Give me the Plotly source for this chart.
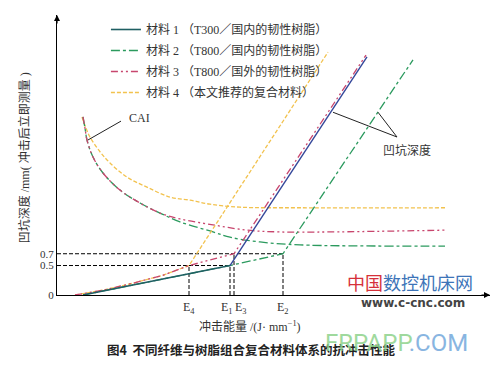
import plotly.graph_objects as go

# ---------------- data (energy in arbitrary units, depth in mm) ----------------
E4, E1, E3, E2 = 1.32, 1.73, 1.77, 2.26
energy_marks = [E4, E1, E3, E2]
energy_labels = ["E<sub>4</sub>", "E<sub>1</sub>", "E<sub>3</sub>", "E<sub>2</sub>"]
depth_ticks = [0, 0.5, 0.7]
depth_tick_labels = ["0", "0.5", "0.7"]

# dent depth vs impact energy
m1_low_x = [0.26, 0.93, 1.33, 1.73]
m1_low_y = [0.0, 0.23, 0.37, 0.5]
m1_high_x = [1.73, 3.10]
m1_high_y = [0.5, 4.04]

m2_x = [0.26, 0.93, 1.33, 1.73, 2.26, 3.56]
m2_y = [0.0, 0.23, 0.37, 0.5, 0.7, 3.99]

m3_x = [0.18, 0.47, 0.76, 1.05, 1.32, 1.56, 1.77, 3.09]
m3_y = [0.0, 0.085, 0.20, 0.33, 0.5, 0.60, 0.7, 4.07]

m4_x = [0.18, 0.47, 0.76, 1.05, 1.32, 2.71]
m4_y = [0.0, 0.085, 0.20, 0.33, 0.5, 4.12]

# CAI vs impact energy
cai4_x = [0.25, 0.29, 0.33, 0.43, 0.53, 0.70, 0.90, 1.13, 1.33, 1.53, 1.83, 2.43, 3.88]
cai4_y = [3.02, 2.83, 2.68, 2.43, 2.24, 2.00, 1.83, 1.66, 1.61, 1.54, 1.49, 1.48, 1.48]

cai3_x = [0.26, 0.28, 0.30, 0.36, 0.46, 0.63, 0.83, 1.03, 1.23, 1.56, 1.90, 2.23, 2.73, 3.88]
cai3_y = [3.02, 2.83, 2.63, 2.34, 2.07, 1.78, 1.56, 1.39, 1.29, 1.19, 1.10, 1.07, 1.07, 1.10]

cai2_x = [0.26, 0.28, 0.30, 0.36, 0.46, 0.63, 0.83, 1.03, 1.23, 1.56, 1.73, 2.03, 2.43, 3.88]
cai2_y = [3.02, 2.83, 2.63, 2.34, 2.07, 1.78, 1.56, 1.39, 1.24, 1.07, 0.98, 0.90, 0.85, 0.83]

legend_names = [
    "材料 1 （T300／国内的韧性树脂）",
    "材料 2 （T800／国内的韧性树脂）",
    "材料 3 （T800／国外的韧性树脂）",
    "材料 4 （本文推荐的复合材料）",
]

# ---------------- styles ----------------
C_TEAL = "#1f5f63"
C_NAVY = "#34479a"
C_GREEN = "#2b9a5e"
C_MAG = "#c8466e"
C_YEL = "#f2c24e"
D_DDOT = "7px,3px,2px,3px,2px,3px"
D_YEL = "4px,2px"
LW = 1.3
SERIF = "Liberation Serif, Noto Sans CJK SC"
CJK = "Noto Sans CJK SC"

fig = go.Figure()

# CAI curves
fig.add_trace(go.Scatter(x=cai4_x, y=cai4_y, mode="lines", line=dict(color=C_YEL, width=LW, dash=D_YEL, shape="spline"), showlegend=False))
fig.add_trace(go.Scatter(x=cai2_x, y=cai2_y, mode="lines", line=dict(color=C_GREEN, width=LW, dash="dashdot", shape="spline"), showlegend=False))
fig.add_trace(go.Scatter(x=cai3_x, y=cai3_y, mode="lines", line=dict(color=C_MAG, width=LW, dash=D_DDOT, shape="spline"), showlegend=False))

# dashed reference lines
fig.add_trace(go.Scatter(x=[0, E1, None, 0, E2], y=[0.5, 0.5, None, 0.7, 0.7], mode="lines",
                         line=dict(color="black", width=1, dash="4px,2px"), showlegend=False))
fig.add_trace(go.Scatter(x=[E4, E4, None, E1, E1, None, E3, E3, None, E2, E2],
                         y=[0, 0.5, None, 0, 0.5, None, 0, 0.7, None, 0, 0.7], mode="lines",
                         line=dict(color="black", width=1, dash="4px,2px"), showlegend=False))

# depth curves
fig.add_trace(go.Scatter(x=m4_x, y=m4_y, mode="lines", name=legend_names[3], legendrank=4, legendgroup="m4",
                         line=dict(color=C_YEL, width=LW, dash=D_YEL)))
fig.add_trace(go.Scatter(x=m2_x, y=m2_y, mode="lines", name=legend_names[1], legendrank=2, legendgroup="m2",
                         line=dict(color=C_GREEN, width=LW, dash="dashdot")))
fig.add_trace(go.Scatter(x=m3_x, y=m3_y, mode="lines", name=legend_names[2], legendrank=3, legendgroup="m3",
                         line=dict(color=C_MAG, width=LW, dash=D_DDOT)))
fig.add_trace(go.Scatter(x=m1_low_x, y=m1_low_y, mode="lines", name=legend_names[0], legendrank=1, legendgroup="m1",
                         line=dict(color=C_TEAL, width=1.6)))
fig.add_trace(go.Scatter(x=m1_high_x, y=m1_high_y, mode="lines", showlegend=False, legendgroup="m1",
                         line=dict(color=C_NAVY, width=1.4)))

# energy labels
shifts = [0, -3, 7, 0]
for xv, lab, sh in zip(energy_marks, energy_labels, shifts):
    fig.add_annotation(x=xv, y=0, yref="y", text=lab, showarrow=False, xshift=sh, yshift=-13,
                       font=dict(family=SERIF, size=12, color="#333"))

# leader lines and labels
fig.add_shape(type="line", x0=0.31, y0=2.63, x1=0.64, y1=2.95, line=dict(color="#222", width=1))
fig.add_annotation(x=0.82, y=3.0, text="CAI", showarrow=False, font=dict(family=SERIF, size=12, color="#333"))
fig.add_shape(type="line", x0=3.40, y0=2.68, x1=2.76, y1=3.10, line=dict(color="#222", width=1))
fig.add_shape(type="line", x0=3.40, y0=2.68, x1=3.21, y1=3.10, line=dict(color="#222", width=1))
fig.add_annotation(x=3.50, y=2.46, text="凹坑深度", showarrow=False, font=dict(family=CJK, size=12, color="#333"))

# axis arrows
fig.add_annotation(x=4.33, y=0, ax=-10, ay=0, text="", showarrow=True, arrowhead=2, arrowsize=1,
                   arrowwidth=1.2, arrowcolor="black")
fig.add_annotation(x=0, y=4.75, ax=0, ay=10, text="", showarrow=True, arrowhead=2, arrowsize=1,
                   arrowwidth=1.2, arrowcolor="black")

# axis titles & caption (paper coords: plot area is 433 x 280 px, origin at (57, 295))
fig.add_annotation(xref="paper", yref="paper", x=-0.097, y=0.49, text="凹坑深度 /mm( 冲击后立即测量 )",
                   textangle=-90, showarrow=False, font=dict(family=SERIF, size=12, color="#333"))
fig.add_annotation(xref="paper", yref="paper", x=0.445, y=-0.114, yanchor="middle",
                   text="冲击能量 /(J· mm<sup>−1</sup>)", showarrow=False,
                   font=dict(family=SERIF, size=12, color="#333"))
fig.add_annotation(xref="paper", yref="paper", x=0.45, y=-0.196, yanchor="middle",
                   text="<b>图4  不同纤维与树脂组合复合材料体系的抗冲击性能</b>", showarrow=False,
                   font=dict(family=CJK, size=12.5, color="#222"))

# watermarks
fig.add_annotation(xref="paper", yref="paper", x=0.953, y=-0.17, yanchor="middle", xanchor="right",
                   text="<span style='color:#8fd38c'>FRPAPP</span><span style='color:#74a9dc'>.COM</span>",
                   showarrow=False, opacity=0.85, font=dict(family="Roboto", size=24))
fig.add_annotation(xref="paper", yref="paper", x=0.965, y=0.045, yanchor="middle", xanchor="right",
                   text="<span style='color:#d6303a'>中国</span><span style='color:#3d74b8'>数控机床网</span>",
                   showarrow=False, font=dict(family=CJK, size=18))
fig.add_annotation(xref="paper", yref="paper", x=0.948, y=-0.03, yanchor="middle", xanchor="right",
                   text="<b>www.c-cnc.com</b>", showarrow=False, font=dict(family="DejaVu Sans", size=12, color="#444"))

fig.update_layout(
    width=498, height=368,
    margin=dict(l=57, r=8, t=15, b=73, autoexpand=False),
    paper_bgcolor="white", plot_bgcolor="white",
    showlegend=True,
    hovermode=False,
    legend=dict(x=0.113, y=1.0, xanchor="left", yanchor="top", bgcolor="rgba(0,0,0,0)",
                font=dict(family=SERIF, size=12, color="#333"), tracegroupgap=2, itemwidth=30),
    xaxis=dict(range=[0, 4.33], showgrid=False, zeroline=False, showline=True, linecolor="black",
               linewidth=1.2, showticklabels=False, ticks="", automargin=False),
    yaxis=dict(range=[0, 4.75], showgrid=False, zeroline=False, showline=True, linecolor="black",
               linewidth=1.2, tickvals=depth_ticks, ticktext=depth_tick_labels, ticks="",
               tickfont=dict(family=SERIF, size=11, color="#333"), automargin=False),
)

fig.write_html("out.html", config={"displayModeBar": False},
               post_script="document.body.style.margin='0px';")
